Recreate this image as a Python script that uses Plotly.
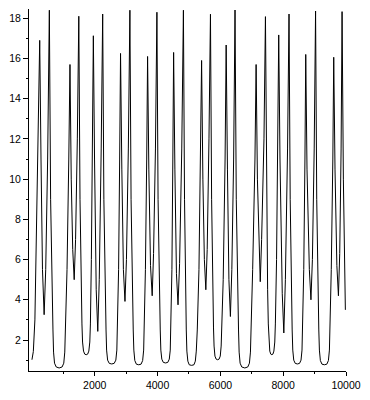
import plotly.graph_objects as go

# time samples
t = [0, 44, 94, 147, 203,
     247, 288, 335, 388, 438, 500, 554, 594, 638,
     669, 688, 719, 773, 866, 960, 1013, 1045, 1070, 1117, 1173,
     1211, 1251, 1298, 1345, 1389, 1445, 1492, 1530, 1564,
     1592, 1611, 1642, 1680, 1727, 1774, 1811, 1842, 1861, 1892, 1927,
     1955, 1993, 2046, 2096, 2143, 2205, 2252, 2290, 2330,
     2359, 2377, 2409, 2462, 2540, 2618, 2671, 2703, 2721, 2759, 2793,
     2821, 2862, 2912, 2962, 3009, 3069, 3119, 3156, 3197,
     3225, 3244, 3275, 3325, 3400, 3475, 3525, 3557, 3575, 3613, 3654,
     3682, 3722, 3775, 3829, 3872, 3932, 3979, 4016, 4057,
     4085, 4104, 4135, 4182, 4254, 4326, 4373, 4404, 4423, 4457, 4486,
     4511, 4551, 4601, 4651, 4701, 4770, 4823, 4858, 4889,
     4914, 4933, 4964, 5008, 5083, 5158, 5202, 5233, 5264, 5318, 5371,
     5402, 5443, 5490, 5537, 5580, 5637, 5684, 5721, 5756,
     5781, 5799, 5827, 5865, 5912, 5959, 5996, 6025, 6043, 6090, 6150,
     6184, 6225, 6272, 6319, 6365, 6422, 6466, 6506, 6547,
     6578, 6597, 6628, 6681, 6778, 6872, 6925, 6957, 6979, 7028, 7101,
     7138, 7179, 7226, 7270, 7313, 7388, 7435, 7473, 7504,
     7526, 7545, 7573, 7604, 7639, 7673, 7704, 7732, 7751, 7789, 7829,
     7858, 7898, 7970, 8020, 8070, 8139, 8186, 8223, 8261,
     8286, 8305, 8336, 8383, 8452, 8521, 8568, 8599, 8618, 8655, 8693,
     8718, 8758, 8833, 8884, 8930, 8987, 9031, 9068, 9106,
     9134, 9153, 9184, 9234, 9312, 9390, 9440, 9472, 9490, 9531, 9581,
     9609, 9650, 9709, 9759, 9800, 9844, 9875, 9916, 9950, 9980]

# values at those samples
v = [1.02, 1.43, 3.0, 8.0, 13.0,
     16.9, 11.0, 5.5, 3.26, 5.5, 11.0, 18.4, 9.0, 4.0,
     2.5, 1.4, 0.85, 0.66, 0.61, 0.66, 0.85, 1.4, 2.5, 5.5, 11.0,
     15.7, 10.0, 6.5, 5.0, 7.0, 12.0, 18.1, 9.0, 4.5,
     2.8, 1.9, 1.45, 1.3, 1.27, 1.3, 1.45, 1.9, 2.8, 6.0, 11.5,
     17.13, 11.0, 4.5, 2.43, 5.0, 11.5, 18.21, 9.0, 4.0,
     2.5, 1.5, 1.0, 0.84, 0.81, 0.84, 1.0, 1.5, 2.5, 5.5, 11.0,
     16.25, 10.5, 5.5, 3.92, 6.0, 11.5, 18.4, 9.0, 4.0,
     2.5, 1.5, 0.98, 0.8, 0.77, 0.8, 0.98, 1.5, 2.5, 5.5, 11.0,
     16.1, 10.5, 5.7, 4.2, 6.3, 11.5, 18.3, 9.0, 4.0,
     2.5, 1.5, 1.05, 0.89, 0.86, 0.89, 1.05, 1.5, 2.5, 5.5, 11.0,
     16.3, 10.5, 5.3, 3.75, 5.8, 11.5, 18.4, 9.0, 4.0,
     2.5, 1.45, 0.95, 0.77, 0.74, 0.77, 0.95, 1.45, 2.5, 5.5, 11.0,
     15.9, 10.0, 6.0, 4.5, 6.5, 12.0, 18.2, 9.0, 4.2,
     2.6, 1.7, 1.2, 1.05, 1.02, 1.05, 1.2, 1.7, 2.6, 5.0, 11.0,
     16.67, 10.5, 5.0, 3.17, 5.5, 11.0, 18.41, 9.0, 4.0,
     2.5, 1.4, 0.85, 0.66, 0.61, 0.66, 0.85, 1.4, 2.5, 5.5, 11.0,
     15.7, 10.0, 6.5, 4.9, 7.0, 12.0, 18.08, 9.0, 4.5,
     2.8, 1.9, 1.45, 1.3, 1.27, 1.3, 1.45, 1.9, 2.8, 6.0, 11.5,
     17.17, 11.0, 4.3, 2.35, 5.0, 11.5, 18.21, 9.0, 4.0,
     2.5, 1.5, 1.0, 0.84, 0.81, 0.84, 1.0, 1.5, 2.5, 5.5, 11.0,
     16.2, 10.5, 5.5, 4.0, 6.0, 11.5, 18.36, 9.0, 4.0,
     2.5, 1.5, 0.98, 0.8, 0.77, 0.8, 0.98, 1.5, 2.5, 5.5, 11.0,
     16.06, 10.5, 5.7, 4.2, 6.3, 11.5, 18.33, 10.0, 5.5, 3.5]

x_ticks = [2000, 4000, 6000, 8000, 10000]
x_minor = [1000, 3000, 5000, 7000, 9000]
y_ticks = [2, 4, 6, 8, 10, 12, 14, 16, 18]
y_minor = [1, 3, 5, 7, 9, 11, 13, 15, 17]

fig = go.Figure()
fig.add_trace(go.Scatter(x=t, y=v, mode="lines",
                         line=dict(color="black", width=1),
                         hoverinfo="skip", showlegend=False))

tickfont = dict(family="Liberation Sans, Arial, sans-serif", size=10.5, color="black")

fig.update_layout(
    width=370, height=400,
    margin=dict(l=27, r=20, t=9, b=29, pad=0),
    paper_bgcolor="white", plot_bgcolor="white",
    showlegend=False,
)
fig.update_xaxes(
    range=[-94, 10000], showgrid=False, zeroline=False,
    showline=True, linecolor="black", linewidth=1, mirror=False,
    tickmode="array", tickvals=x_ticks, ticktext=[str(x) for x in x_ticks],
    ticks="outside", ticklen=4, tickwidth=1, tickcolor="black",
    tickfont=tickfont,
    minor=dict(tickmode="array", tickvals=x_minor, ticks="outside",
               ticklen=2, tickwidth=1, tickcolor="black", showgrid=False),
)
fig.update_yaxes(
    range=[0.46, 18.46], showgrid=False, zeroline=False,
    showline=True, linecolor="black", linewidth=1, mirror=False,
    tickmode="array", tickvals=y_ticks, ticktext=[str(y) for y in y_ticks],
    ticks="outside", ticklen=5, tickwidth=1, tickcolor="black",
    tickfont=tickfont,
    minor=dict(tickmode="array", tickvals=y_minor, ticks="outside",
               ticklen=2, tickwidth=1, tickcolor="black", showgrid=False),
)

fig.write_html("out.html", config={"displayModeBar": False},
               post_script="document.body.style.margin='0';")
